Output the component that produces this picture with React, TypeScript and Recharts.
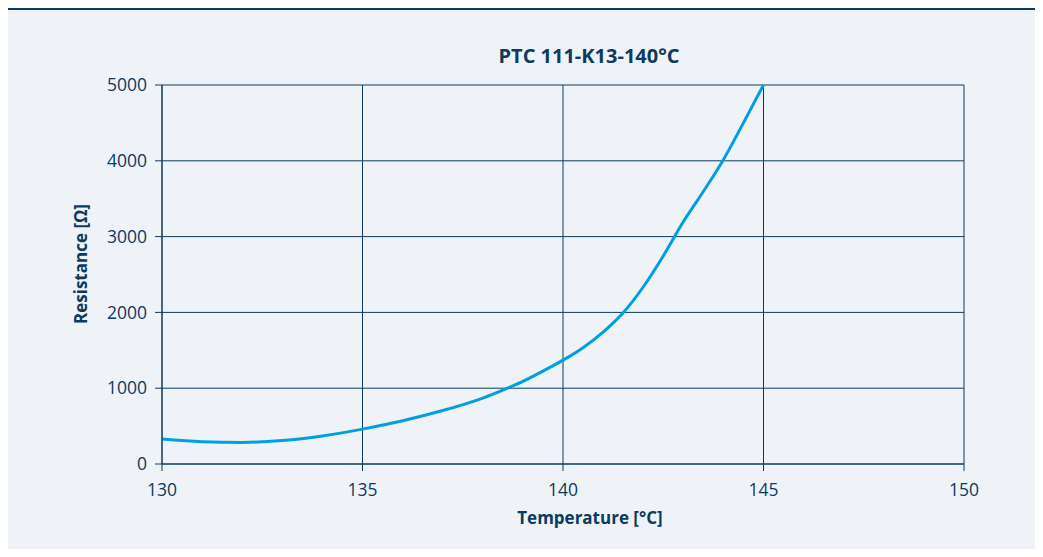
import React from "react";
import {
  LineChart,
  Line,
  XAxis,
  YAxis,
  CartesianGrid,
} from "recharts";

const temperatures = [130, 131, 132, 133, 134, 135, 136, 137, 138, 138.5, 139, 139.5, 140, 140.5, 141, 141.5, 142, 142.5, 143, 143.5, 144, 144.5, 145];
const resistance = [330, 295, 285, 310, 370, 460, 570, 705, 870, 975, 1090, 1225, 1370, 1535, 1740, 1995, 2335, 2745, 3195, 3595, 4015, 4500, 5000];
const xTicks = [130, 135, 140, 145, 150];
const yTicks = [0, 1000, 2000, 3000, 4000, 5000];

const data = temperatures.map((t, i) => ({ t, r: resistance[i] }));

const NAVY = "#0d3a5f";
const FONT = "'Open Sans', sans-serif";

export default function App() {
  return (
    <div
      style={{
        position: "relative",
        width: 1043,
        height: 557,
        margin: -8,
        background: "#fff",
        fontFamily: FONT,
        color: NAVY,
      }}
    >
      <div
        style={{
          position: "absolute",
          left: 2,
          top: 7,
          width: 1041,
          height: 550,
          background: "#eff3f7",
          borderTop: `3px solid ${NAVY}`,
          boxSizing: "border-box",
        }}
      />
      <div style={{ position: "absolute", left: 0, top: 0 }}>
        <LineChart
          width={1043}
          height={557}
          data={data}
          margin={{ top: 85, right: 79, bottom: 63, left: 102 }}
        >
          <CartesianGrid stroke={NAVY} strokeWidth={1} />
          <XAxis
            dataKey="t"
            type="number"
            domain={[130, 150]}
            ticks={xTicks}
            height={30}
            stroke={NAVY}
            tickSize={7}
            tickMargin={13}
            tick={{ fill: NAVY, fontSize: 17.5, fontFamily: FONT }}
          />
          <YAxis
            type="number"
            domain={[0, 5000]}
            ticks={yTicks}
            width={60}
            stroke={NAVY}
            tickSize={7}
            tickMargin={8}
            tick={{ fill: NAVY, fontSize: 17.5, fontFamily: FONT }}
          />
          <Line
            type="monotone"
            dataKey="r"
            stroke="#009fe3"
            strokeWidth={3}
            dot={false}
            isAnimationActive={false}
          />
        </LineChart>
      </div>
      <div
        style={{
          position: "absolute",
          left: 389,
          width: 400,
          top: 44,
          textAlign: "center",
          fontSize: 20,
          fontWeight: 700,
          lineHeight: "24px",
        }}
      >
        PTC 111-K13-140°C
      </div>
      <div
        style={{
          position: "absolute",
          left: 390,
          width: 400,
          top: 508,
          textAlign: "center",
          fontSize: 17,
          fontWeight: 700,
          lineHeight: "20px",
        }}
      >
        Temperature [°C]
      </div>
      <div
        style={{
          position: "absolute",
          left: 81 - 100,
          width: 200,
          top: 264 - 10,
          textAlign: "center",
          fontSize: 17,
          fontWeight: 700,
          lineHeight: "20px",
          transform: "rotate(-90deg)",
        }}
      >
        Resistance [Ω]
      </div>
    </div>
  );
}
